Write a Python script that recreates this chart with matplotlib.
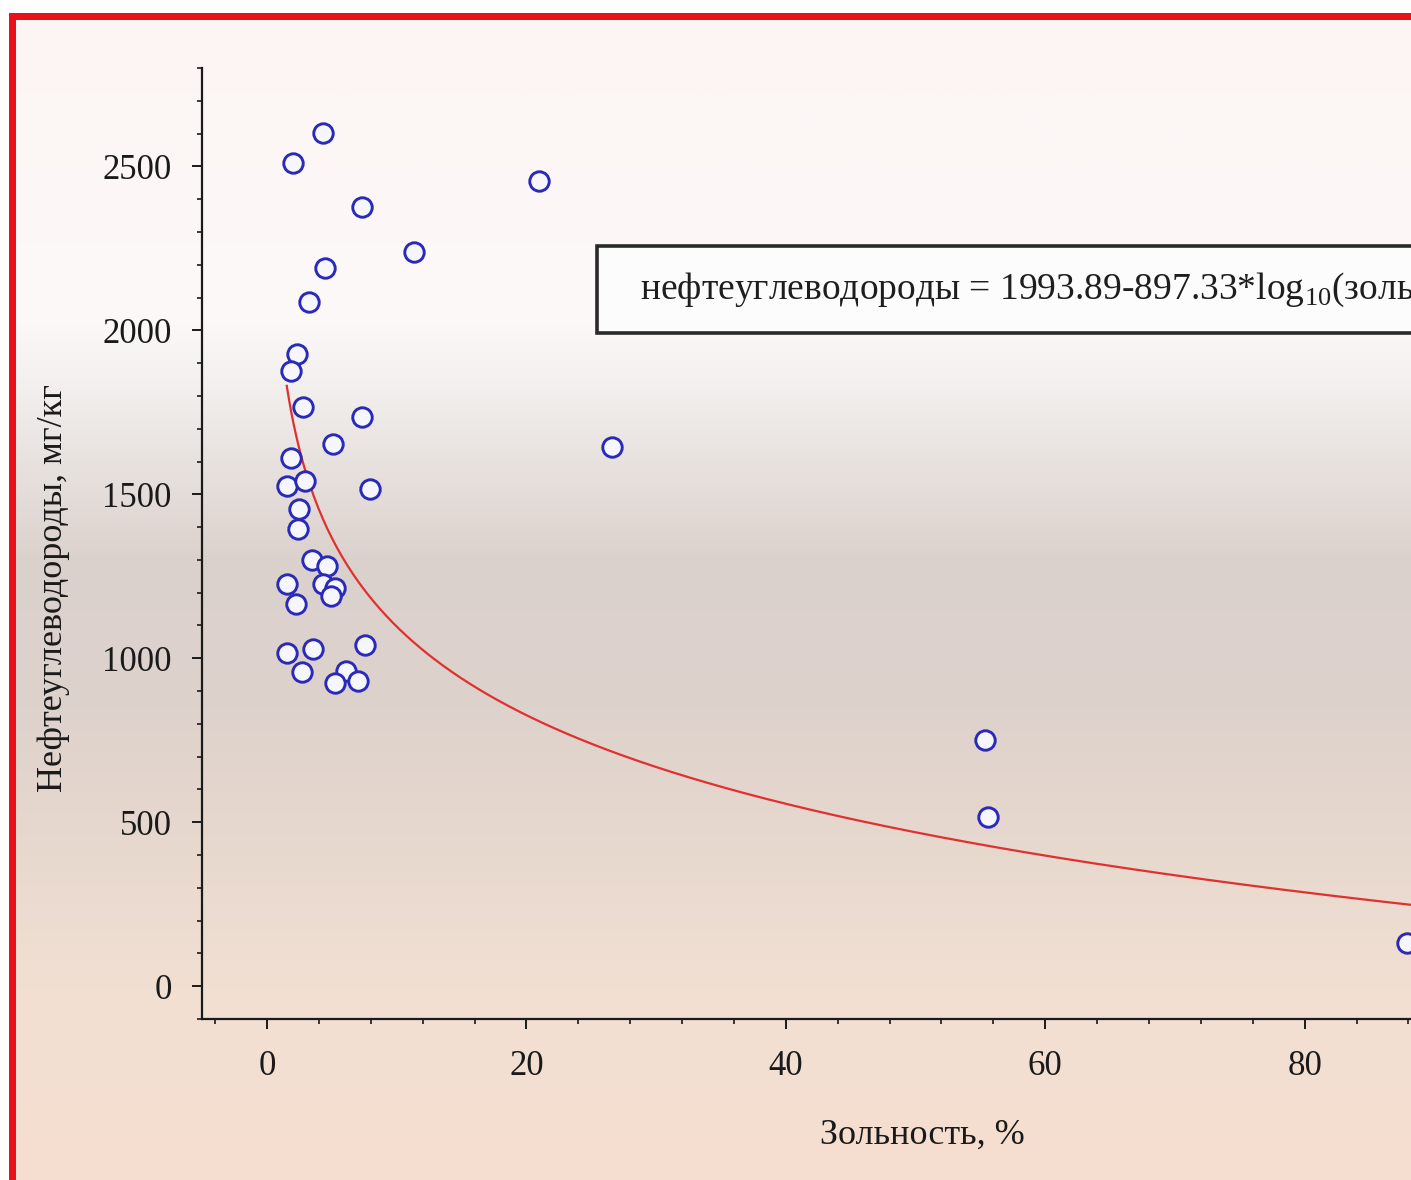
import numpy as np
import matplotlib
matplotlib.use("Agg")
import matplotlib.pyplot as plt
from matplotlib.patches import Rectangle
from matplotlib.ticker import MultipleLocator

plt.rcParams['font.family'] = ['Liberation Serif', 'DejaVu Serif']
plt.rcParams['mathtext.fontset'] = 'custom'
plt.rcParams['mathtext.rm'] = 'Liberation Serif'

# ash content, %  and  petroleum hydrocarbons, mg/kg
ash = [2.00, 4.32, 7.32, 20.97, 11.33, 4.47, 3.26, 2.29, 1.83, 2.80,
       7.32, 5.07, 26.60, 1.83, 1.55, 2.93, 7.94, 2.49, 2.41, 3.45,
       4.60, 1.55, 4.29, 5.24, 4.91, 2.24, 7.56, 1.55, 3.52, 2.68,
       6.09, 5.24, 7.04, 55.36, 55.59, 87.9]
oil = [2509, 2601, 2375, 2454, 2238, 2189, 2086, 1928, 1877, 1765,
       1735, 1652, 1643, 1611, 1524, 1540, 1515, 1456, 1395, 1300,
       1280, 1225, 1225, 1214, 1189, 1166, 1040, 1016, 1027, 957,
       960, 925, 932, 750, 515, 131]

# fitted model shown on the chart
fit_a = 1993.89
fit_b = 897.33

yticks = [0, 500, 1000, 1500, 2000, 2500]
xticks = [0, 20, 40, 60, 80, 100]

fig = plt.figure(figsize=(14.11, 11.8), dpi=100)

# background with gradient and red frame (pixel coords)
bg = fig.add_axes([0, 0, 1, 1], zorder=-1)
bg.set_xlim(0, 1411)
bg.set_ylim(1180, 0)
bg.axis('off')
stops_y = [0, 300, 345, 550, 700, 850, 1000, 1180]
stops_c = [(252, 245, 244), (252, 249, 248), (246, 244, 243), (219, 209, 204),
           (222, 210, 204), (232, 217, 207), (242, 224, 210), (246, 222, 208)]
yy = np.arange(0, 1180)
grad = np.zeros((len(yy), 1, 3))
for k in range(3):
    grad[:, 0, k] = np.interp(yy, stops_y, [c[k] for c in stops_c]) / 255
bg.imshow(grad, extent=(16, 1411, 1180, 20), aspect='auto', interpolation='bilinear')
bg.add_patch(Rectangle((9, 13), 7, 1167, color='#e8101a', lw=0))
bg.add_patch(Rectangle((9, 13), 1402, 7, color='#e8101a', lw=0))

# equation box
bg.add_patch(Rectangle((597, 246), 1000, 87, facecolor='#fcfcfc',
                       edgecolor='#2a2a2a', lw=2.6))
bg.text(640, 290, 'нефтеуглеводороды = 1993.89-897.33*log$_{\\mathrm{10}}$(зольность)',
        fontsize=27, va='center', ha='left', color='#1e1e1e')

# main plot
ax = fig.add_axes([202.2 / 1411, 161 / 1180, 111 * 12.97 / 1411, 951 / 1180])
ax.patch.set_alpha(0)

ax.plot(ash, oil, 'o', ms=14, mfc='#f6f6ff', mec='#2a2ab8', mew=2.1, zorder=3)

xf = np.linspace(1.52, 106, 600)
ax.plot(xf, fit_a - fit_b * np.log10(xf), color='#e03030', lw=1.6, zorder=2)

ax.set_xlim(-5, 106)
ax.set_ylim(-100, 2800)
ax.set_xticks(xticks)
ax.set_yticks(yticks)
ax.xaxis.set_minor_locator(MultipleLocator(4))
ax.yaxis.set_minor_locator(MultipleLocator(100))
for s in ['top', 'right']:
    ax.spines[s].set_visible(False)
for s in ['left', 'bottom']:
    ax.spines[s].set_linewidth(1.6)
    ax.spines[s].set_color('#1a1a1a')
ax.tick_params(which='major', direction='out', length=7, width=1.4,
               labelsize=25, colors='#1a1a1a', pad=15)
ax.tick_params(which='minor', direction='out', length=3.5, width=1.2, colors='#1a1a1a')

ax.set_xlabel('Зольность, %', fontsize=26, color='#1a1a1a', labelpad=26)
ax.set_ylabel('Нефтеуглеводороды, мг/кг', fontsize=26, color='#1a1a1a')
ax.yaxis.set_label_coords(-0.092, 0.453)

fig.savefig('out.png', dpi=100)
